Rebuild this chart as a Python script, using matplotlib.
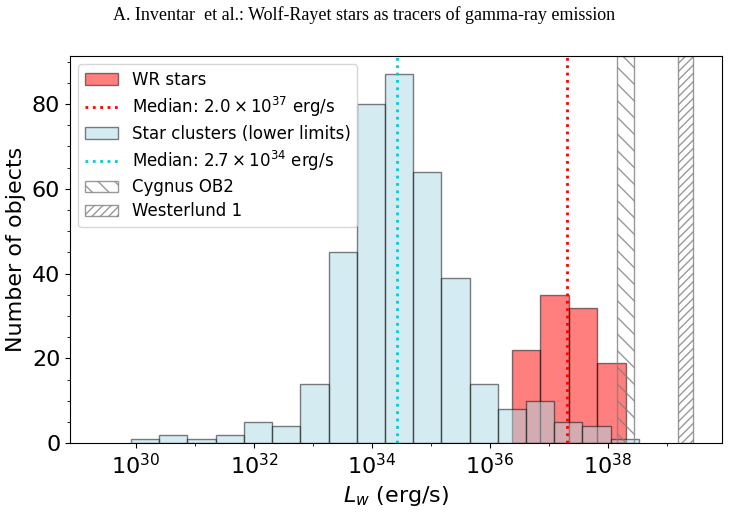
import numpy as np
import matplotlib

matplotlib.use("Agg")
import matplotlib.pyplot as plt  # noqa: E402
from matplotlib.ticker import AutoMinorLocator, NullFormatter  # noqa: E402

# log10 bin edges and counts
cluster_edges = np.linspace(29.915, 38.525, 19)
cluster_counts = [1, 2, 1, 2, 5, 4, 14, 45, 80, 87, 64, 39, 14, 8, 10, 5, 4, 1]

wr_edges = np.linspace(36.37, 38.30, 5)
wr_counts = [22, 35, 32, 19]

wr_median = 2.0e37
cluster_median = 2.7e34

cygnus_range = (38.15, 38.44)      # log10 Lw
westerlund_range = (39.19, 39.44)

major_exp = [30, 32, 34, 36, 38]
minor_exp = [31, 33, 35, 37, 39]

plt.rcParams.update({"font.size": 16})

fig = plt.figure(figsize=(7.29, 5.13), dpi=100)
ax = fig.add_axes([0.096, 0.136, 0.894, 0.755])

ax.hist(10 ** wr_edges[:-1], bins=10 ** wr_edges, weights=wr_counts,
        color="red", alpha=0.5, edgecolor="black", label="WR stars")
ax.axvline(wr_median, color="red", ls=":", lw=2,
           label=r"Median: $2.0 \times 10^{37}$ erg/s")
ax.hist(10 ** cluster_edges[:-1], bins=10 ** cluster_edges,
        weights=cluster_counts, color="lightblue", alpha=0.5,
        edgecolor="black", label="Star clusters (lower limits)")
ax.axvline(cluster_median, color="darkturquoise", ls=":", lw=2,
           label=r"Median: $2.7 \times 10^{34}$ erg/s")
ax.axvspan(10 ** cygnus_range[0], 10 ** cygnus_range[1], facecolor="none",
           edgecolor="gray", hatch="\\\\", alpha=0.8, label="Cygnus OB2")
ax.axvspan(10 ** westerlund_range[0], 10 ** westerlund_range[1],
           facecolor="none", edgecolor="gray", hatch="////", alpha=0.8,
           label="Westerlund 1")

ax.set_xscale("log")
ax.set_xlim(10 ** 28.88, 10 ** 39.93)
ax.set_xticks([10.0 ** e for e in major_exp])
ax.set_xticks([10.0 ** e for e in minor_exp], minor=True)
ax.xaxis.set_minor_formatter(NullFormatter())
ax.yaxis.set_minor_locator(AutoMinorLocator(4))
ax.set_xlabel(r"$L_w$ (erg/s)")
ax.set_ylabel("Number of objects")
ax.legend(loc="upper left", fontsize=12, labelspacing=0.35)

fig.text(0.5, 0.97, "A. Inventar  et al.: Wolf-Rayet stars as tracers of gamma-ray emission",
         ha="center", va="center", family="Liberation Serif", fontsize=13)

fig.savefig("out.png", dpi=100)
